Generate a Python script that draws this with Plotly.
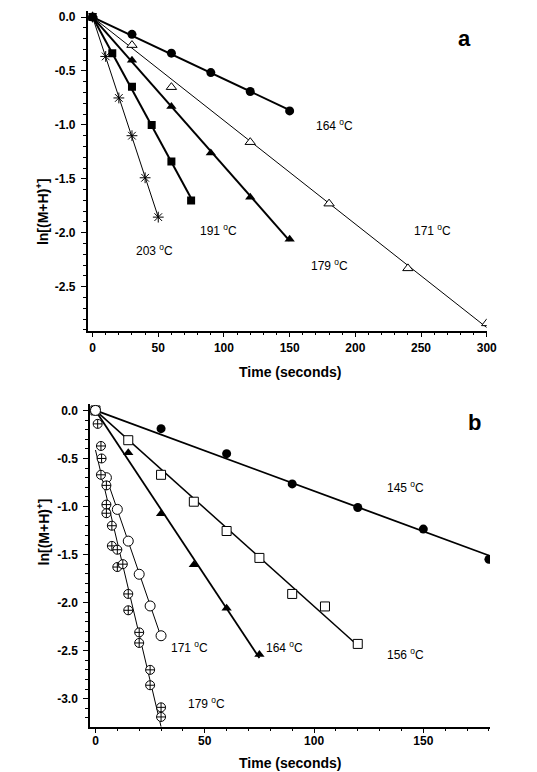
import numpy as np
import plotly.graph_objects as go

# ---------------- Panel a data ----------------
a_t_164 = [0, 30, 60, 90, 120, 150]
a_y_164 = [0, -0.16, -0.335, -0.515, -0.69, -0.87]
a_t_171 = [0, 30, 60, 120, 180, 240, 300]
a_y_171 = [0, -0.26, -0.65, -1.16, -1.73, -2.33, -2.84]
a_t_179 = [0, 30, 60, 90, 120, 150]
a_y_179 = [0, -0.40, -0.83, -1.26, -1.67, -2.06]
a_t_191 = [0, 15, 30, 45, 60, 75]
a_y_191 = [0, -0.335, -0.645, -1.00, -1.34, -1.70]
a_t_203 = [0, 10, 20, 30, 40, 50]
a_y_203 = [0, -0.365, -0.75, -1.10, -1.49, -1.855]

# ---------------- Panel b data ----------------
b_t_145 = [0, 30, 60, 90, 120, 150, 180]
b_y_145 = [0, -0.19, -0.45, -0.765, -1.01, -1.235, -1.55]
b_t_156 = [0, 15, 30, 45, 60, 75, 90, 105, 120]
b_y_156 = [0, -0.31, -0.67, -0.95, -1.255, -1.535, -1.91, -2.04, -2.43]
b_t_164 = [0, 15, 30, 45, 60, 75]
b_y_164 = [0, -0.44, -1.075, -1.605, -2.06, -2.54]
b_t_171 = [0, 5, 10, 15, 20, 25, 30]
b_y_171 = [0, -0.70, -1.03, -1.36, -1.705, -2.035, -2.345]
b_t_179 = [1, 2.5, 2.8, 2.5, 5, 5, 5, 7.5, 7.5, 10, 10, 12.5, 15, 15, 20, 20, 25, 25, 30, 30]
b_y_179 = [-0.14, -0.37, -0.50, -0.67, -0.78, -0.98, -1.07, -1.20, -1.41, -1.45, -1.63,
           -1.60, -1.91, -2.08, -2.31, -2.42, -2.70, -2.86, -3.09, -3.19]

# ---------------- tick labels ----------------
a_xticks = [0, 50, 100, 150, 200, 250, 300]
a_yticks = [0.0, -0.5, -1.0, -1.5, -2.0, -2.5]
a_ytext = ["0.0", "-0.5", "-1.0", "-1.5", "-2.0", "-2.5"]
b_xticks = [0, 50, 100, 150]
b_yticks = [0.0, -0.5, -1.0, -1.5, -2.0, -2.5, -3.0]
b_ytext = ["0.0", "-0.5", "-1.0", "-1.5", "-2.0", "-2.5", "-3.0"]

FONT = "Arial, Liberation Sans, Helvetica, sans-serif"
BLACK = "black"


def origin_fit(t, y):
    t = np.asarray(t, float); y = np.asarray(y, float)
    k = (t * y).sum() / (t * t).sum()
    tt = np.array([0.0, t.max()])
    return tt, k * tt


def ls_fit(t, y, t0=None):
    t = np.asarray(t, float); y = np.asarray(y, float)
    k, c = np.polyfit(t, y, 1)
    start = t.min() if t0 is None else t0
    tt = np.array([start, t.max()])
    return tt, k * tt + c


fig = go.Figure()


def add_line(tt, yy, w, xa, ya):
    fig.add_trace(go.Scatter(x=tt, y=yy, mode="lines", line=dict(color=BLACK, width=w),
                             xaxis=xa, yaxis=ya, showlegend=False, hoverinfo="skip"))


def add_pts(t, y, symbol, size, fill, lw, xa, ya):
    fig.add_trace(go.Scatter(x=t, y=y, mode="markers",
                             marker=dict(symbol=symbol, size=size, color=fill,
                                         line=dict(color=BLACK, width=lw)),
                             xaxis=xa, yaxis=ya, showlegend=False))


# Panel a lines
for t, y, w in [(a_t_164, a_y_164, 2), (a_t_171, a_y_171, 1), (a_t_179, a_y_179, 2),
                (a_t_191, a_y_191, 2), (a_t_203, a_y_203, 1)]:
    tt, yy = origin_fit(t, y)
    add_line(tt, yy, w, "x", "y")

# Panel b lines
tt, yy = origin_fit(b_t_145, b_y_145); add_line(tt, yy, 1.8, "x2", "y2")
tt, yy = origin_fit(b_t_156, b_y_156); add_line(tt, yy, 1.5, "x2", "y2")
tt, yy = origin_fit(b_t_164, b_y_164); add_line(tt, yy, 1.8, "x2", "y2")
tt, yy = ls_fit(b_t_171[1:], b_y_171[1:]); add_line(tt, yy, 1, "x2", "y2")
tt, yy = ls_fit(b_t_179, b_y_179, t0=0); add_line(tt, yy, 1, "x2", "y2")

# Panel a markers
add_pts(a_t_164, a_y_164, "circle", 9, BLACK, 0, "x", "y")
add_pts(a_t_171, a_y_171, "triangle-up", 9, "white", 1, "x", "y")
add_pts(a_t_179, a_y_179, "triangle-up", 9, BLACK, 0, "x", "y")
add_pts(a_t_191, a_y_191, "square", 8, BLACK, 0, "x", "y")
add_pts(a_t_203, a_y_203, "asterisk-open", 9, BLACK, 1, "x", "y")

# Panel b markers
add_pts(b_t_145, b_y_145, "circle", 9, BLACK, 0, "x2", "y2")
add_pts(b_t_156, b_y_156, "square", 9, "white", 1, "x2", "y2")
add_pts(b_t_164, b_y_164, "triangle-up", 9, BLACK, 0, "x2", "y2")
add_pts(b_t_171, b_y_171, "circle", 10, "white", 1, "x2", "y2")
add_pts(b_t_179, b_y_179, "circle-cross", 9, "white", 1, "x2", "y2")

tickfont = dict(family=FONT, size=12, color=BLACK, weight="bold")
axis_common = dict(showline=True, linecolor=BLACK, linewidth=1.5, ticks="outside",
                   ticklen=5, tickwidth=1.3, tickcolor=BLACK, showgrid=False,
                   zeroline=False, tickfont=tickfont, mirror=False)
minor_x = dict(dtick=10, tick0=0, ticklen=3, tickcolor=BLACK, ticks="outside")
minor_y = dict(dtick=0.1, tick0=0, ticklen=3, tickcolor=BLACK, ticks="outside")

fig.update_layout(
    width=537, height=772, autosize=False,
    margin=dict(l=0, r=0, t=0, b=0),
    paper_bgcolor="white", plot_bgcolor="white",
    xaxis=dict(domain=[0.1663, 0.9236], range=[-3.75, 300], anchor="y",
               tickvals=a_xticks, ticktext=[str(v) for v in a_xticks],
               minor=minor_x, **axis_common),
    yaxis=dict(domain=[0.5725, 0.987], range=[-2.907, 0.056], anchor="x",
               tickvals=a_yticks, ticktext=a_ytext,
               minor=minor_y, ticklabelstandoff=3, **axis_common),
    xaxis2=dict(domain=[0.1708, 0.9298], range=[-2.5, 180.5], anchor="y2",
                tickvals=b_xticks, ticktext=[str(v) for v in b_xticks],
                minor=minor_x, ticklabelstandoff=-3, **axis_common),
    yaxis2=dict(domain=[0.0587, 0.4767], range=[-3.292, 0.062], anchor="x2",
                tickvals=b_yticks, ticktext=b_ytext,
                minor=minor_y, ticklabelstandoff=3, **axis_common),
)

lab = dict(family=FONT, size=12, color=BLACK)
labels = [
    ("x", "y", 184, -1.0, "164 <sup>o</sup>C"),
    ("x", "y", 259, -1.97, "171 <sup>o</sup>C"),
    ("x", "y", 180.5, -2.30, "179 <sup>o</sup>C"),
    ("x", "y", 96, -1.97, "191 <sup>o</sup>C"),
    ("x", "y", 47, -2.16, "203 <sup>o</sup>C"),
    ("x2", "y2", 141.8, -0.80, "145 <sup>o</sup>C"),
    ("x2", "y2", 141.8, -2.54, "156 <sup>o</sup>C"),
    ("x2", "y2", 86.7, -2.46, "164 <sup>o</sup>C"),
    ("x2", "y2", 43, -2.46, "171 <sup>o</sup>C"),
    ("x2", "y2", 50.8, -3.05, "179 <sup>o</sup>C"),
]
for xr, yr, x, y, s in labels:
    fig.add_annotation(x=x, y=y, xref=xr, yref=yr, text=s, showarrow=False, font=lab)

bold = dict(family=FONT, size=14, color=BLACK, weight="bold")
fig.add_annotation(x=0.551, y=0.5194, xref="paper", yref="paper", text="Time (seconds)",
                   showarrow=False, font=bold)
fig.add_annotation(x=0.551, y=0.0, xref="paper", yref="paper", yanchor="bottom",
                   yshift=-1, text="Time (seconds)", showarrow=False, font=bold)
fig.add_annotation(x=0.058, y=0.773, xref="paper", yref="paper", text="ln[(M+H)<sup>+</sup>]",
                   textangle=-90, showarrow=False, font=bold)
fig.add_annotation(x=0.060, y=0.2655, xref="paper", yref="paper", text="ln[(M+H)<sup>+</sup>]",
                   textangle=-90, showarrow=False, font=bold)
big = dict(family=FONT, size=22, color=BLACK, weight="bold")
fig.add_annotation(x=0.8976, y=0.970, xref="paper", yref="paper", text="a",
                   showarrow=False, font=big)
fig.add_annotation(x=0.916, y=0.4534, xref="paper", yref="paper", text="b",
                   showarrow=False, font=big)

fig.write_html("out.html", config={"displayModeBar": False},
               post_script="document.body.style.margin='0px';"
                           "document.body.style.overflow='hidden';")
